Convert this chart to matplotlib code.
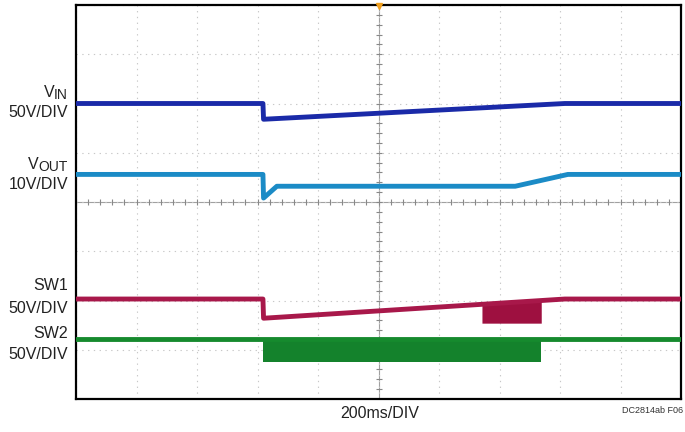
import numpy as np
import matplotlib
matplotlib.use("Agg")
import matplotlib.pyplot as plt

# time axis in divisions (200ms/DIV), vertical axis in divisions
vin_t = [0, 3.09, 3.10, 8.08, 10]
vin_v = [6.00, 6.00, 5.68, 6.00, 6.00]

vout_t = [0, 3.09, 3.10, 3.32, 7.26, 8.13, 10]
vout_v = [4.56, 4.56, 4.08, 4.32, 4.32, 4.56, 4.56]

sw1_t = [0, 3.09, 3.10, 8.08, 10]
sw1_v = [2.03, 2.03, 1.64, 2.03, 2.03]
sw1_band_t = [6.71, 7.69]
sw1_band_lo = 1.54

sw2_t = [0, 10]
sw2_v = [1.22, 1.22]
sw2_band_t = [3.09, 7.69]
sw2_band_lo = 0.75

# (main text, subscript, baseline y in px)
labels = [
    ("V", "IN", 97),
    ("50V/DIV", "", 117),
    ("V", "OUT", 169),
    ("10V/DIV", "", 189),
    ("SW1", "", 290),
    ("50V/DIV", "", 313),
    ("SW2", "", 338),
    ("50V/DIV", "", 359),
]

plt.rcParams["font.family"] = ["Liberation Sans", "DejaVu Sans"]

W, H = 685, 432
fig = plt.figure(figsize=(W / 100, H / 100), dpi=100)
ax = fig.add_axes([76 / W, 1 - 399 / H, 605 / W, 394 / H])
ax.set_xlim(0, 10)
ax.set_ylim(0, 8)

# scope graticule
ax.set_xticks(range(11))
ax.set_yticks(range(9))
ax.grid(True, color="#c8c8c8", linestyle=(0, (1.2, 4)), linewidth=0.8)
ax.tick_params(length=0, labelbottom=False, labelleft=False)

ax.axvline(5, color="#a0a0a0", lw=0.8, zorder=1)
ax.axhline(4, color="#a0a0a0", lw=0.8, zorder=1)
minor_x = np.arange(0, 10.01, 0.2)
minor_y = np.arange(0, 8.01, 0.2)
ax.plot(minor_x, [4] * len(minor_x), ls="none", marker="|", ms=4, color="#888888", mew=0.8)
ax.plot([5] * len(minor_y), minor_y, ls="none", marker="_", ms=4, color="#888888", mew=0.8)
ax.plot([5], [7.97], marker="v", ms=4, color="#f0a020", clip_on=False, zorder=5)

for s in ax.spines.values():
    s.set_linewidth(1.6)
    s.set_color("black")

# switching bands
sw1_top = np.interp(sw1_band_t, sw1_t, sw1_v)
ax.fill_between(sw1_band_t, [sw1_band_lo] * 2, sw1_top, color="#9e1040", lw=0, zorder=3)
ax.fill_between(sw2_band_t, [sw2_band_lo] * 2, [sw2_v[0]] * 2, color="#14822c", lw=0, zorder=3)

ax.plot(vin_t, vin_v, color="#1a2aa8", lw=3.5, zorder=4)
ax.plot(vout_t, vout_v, color="#1b8bc6", lw=3.5, zorder=4)
ax.plot(sw1_t, sw1_v, color="#a8184a", lw=3.5, zorder=4)
ax.plot(sw2_t, sw2_v, color="#168a2e", lw=3.5, zorder=4)

renderer = fig.canvas.get_renderer()
x_right = 68
for txt, sub, yb in labels:
    xr = x_right
    if sub:
        st = fig.text(xr / W, 1 - (yb + 2) / H, sub, ha="right", va="baseline",
                      fontsize=10, color="#222222")
        xr -= st.get_window_extent(renderer).width
    fig.text(xr / W, 1 - yb / H, txt, ha="right", va="baseline", fontsize=11.5, color="#222222")

fig.text(380 / W, 1 - 418 / H, "200ms/DIV", ha="center", va="baseline", fontsize=11.5, color="#222222")
fig.text(683 / W, 1 - 413 / H, "DC2814ab F06", ha="right", va="baseline", fontsize=6.5, color="#333333")

fig.savefig("out.png", dpi=100)
